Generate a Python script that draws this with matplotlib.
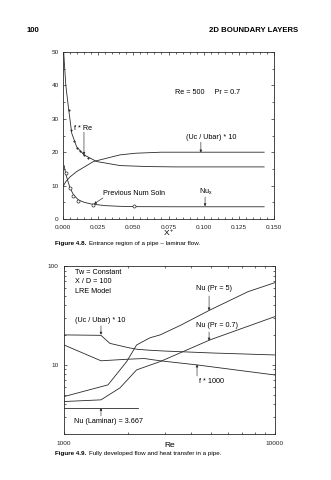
"""
Two stacked pipe flow charts from a textbook page (Figures 4.8 and 4.9).

1. Entrance region of a pipe - laminar flow (linear axes).
2. Fully developed flow and heat transfer in a pipe (log-log axes).

Usage:
  python3 plot.py
"""

import matplotlib
matplotlib.use("Agg")
import matplotlib.pyplot as plt
from matplotlib.ticker import (MultipleLocator, LogLocator, NullFormatter, FixedLocator,
                               FixedFormatter, StrMethodFormatter)

# -----------------------------------------------------------------------------
# Data: Figure 4.8 (entrance region)
# -----------------------------------------------------------------------------
fre_x = [0.0005, 0.001, 0.002, 0.0038, 0.0062, 0.0097, 0.0149, 0.024, 0.0405, 0.06, 0.08, 0.1, 0.143]
fre_y = [50.0, 46.5, 40.0, 33.6, 25.7, 21.6, 19.2, 17.2, 16.0, 15.7, 15.6, 15.6, 15.6]

uc_x = [0.0, 0.002, 0.005, 0.0097, 0.0216, 0.0405, 0.052, 0.07, 0.1, 0.143]
uc_y = [9.7, 11.2, 12.6, 14.2, 17.2, 19.2, 19.7, 20.0, 20.0, 20.0]

nu_x = [0.0008, 0.002, 0.005, 0.0075, 0.011, 0.015, 0.02, 0.03, 0.04, 0.05, 0.08, 0.143]
nu_y = [16.0, 13.4, 9.3, 7.2, 5.7, 5.0, 4.5, 4.0, 3.8, 3.7, 3.66, 3.66]

prev_nu_x = [0.0021, 0.005, 0.0073, 0.011, 0.0216, 0.0507]
prev_nu_y = [13.9, 9.4, 7.0, 5.5, 4.3, 3.8]

prev_fre_x = [0.004, 0.006, 0.008, 0.010, 0.012, 0.015, 0.018]
prev_fre_y = [32.5, 26.5, 23.3, 21.4, 20.3, 19.2, 18.3]

x_tick_labels = ["0.000", "0.025", "0.050", "0.075", "0.100", "0.125", "0.150"]

# -----------------------------------------------------------------------------
# Data: Figure 4.9 (fully developed, Re 1000 - 10000)
# -----------------------------------------------------------------------------
re_uc = [1000, 1497, 1650, 2000, 2208, 2500, 3000, 5000, 10000]
uc10 = [20.1, 19.9, 16.5, 15.0, 14.4, 14.1, 13.8, 13.2, 12.6]

re_f = [1000, 1497, 1990, 2400, 2855, 4260, 10000]
f1000 = [15.9, 11.0, 11.4, 11.6, 11.0, 10.0, 7.9]

re_pr5 = [1000, 1616, 1982, 2208, 2557, 2855, 3548, 4920, 7450, 10000]
nu_pr5 = [4.78, 6.28, 10.8, 15.9, 18.8, 20.1, 25.0, 35.9, 55.0, 67.9]

re_pr07 = [1000, 1497, 1843, 2208, 2855, 4920, 10000]
nu_pr07 = [4.26, 4.43, 5.86, 8.9, 10.8, 17.9, 30.8]

re_lam = [1000, 2242]
nu_lam = [3.667, 3.667]

LINE_COLOR = "#2a2a2a"
LINE_WIDTH = 0.6
FONT_TICK = 4.6
FONT_NOTE = 5.2
FONT_CAPTION = 4.5
ARROW = dict(arrowstyle="-|>", lw=0.45, color=LINE_COLOR, mutation_scale=3.5, shrinkA=0, shrinkB=0)


def style_axes(ax):
  """Inward ticks on all four sides, thin frame."""
  for spine in ax.spines.values():
    spine.set_linewidth(0.6)
    spine.set_color(LINE_COLOR)
  ax.tick_params(which="both", direction="in", top=True, right=True, width=0.5,
                 colors=LINE_COLOR, labelsize=FONT_TICK, labelcolor="#222222")
  ax.tick_params(which="major", length=2.4)
  ax.tick_params(which="minor", length=1.4)


def caption(fig, y_px, label, text):
  """Bold figure number followed by the plain caption text."""
  y = 1 - y_px / 480
  bold = fig.text(55 / 331, y, label, fontsize=FONT_CAPTION, fontweight="bold", va="center")
  fig.canvas.draw()
  bbox = bold.get_window_extent(renderer=fig.canvas.get_renderer())
  fig.text((bbox.x1 + 3) / 331, y, text, fontsize=FONT_CAPTION, va="center")


def main() -> None:
  plt.rcParams["font.family"] = ["Liberation Sans", "DejaVu Sans"]
  plt.rcParams["mathtext.default"] = "regular"

  fig = plt.figure(figsize=(3.31, 4.8), dpi=100)

  # page header
  fig.text(27 / 331, 1 - 30 / 480, "100", fontsize=5.6, fontweight="bold", va="center", ha="left")
  fig.text(298 / 331, 1 - 30 / 480, "2D BOUNDARY LAYERS", fontsize=5.6, fontweight="bold",
           va="center", ha="right")

  # -----------------------------------------------------------------------------
  # Figure 4.8
  # -----------------------------------------------------------------------------
  ax1 = fig.add_axes([63 / 331, 1 - 219 / 480, 211 / 331, 167 / 480])
  kw = dict(color=LINE_COLOR, lw=LINE_WIDTH)
  ax1.plot(fre_x, fre_y, **kw)
  ax1.plot(uc_x, uc_y, **kw)
  ax1.plot(nu_x, nu_y, **kw)
  ax1.plot(prev_nu_x, prev_nu_y, linestyle="none", marker="o", ms=2.2, mfc="white",
           mec=LINE_COLOR, mew=0.5)
  ax1.plot(prev_fre_x, prev_fre_y, linestyle="none", marker="o", ms=1.1, mfc=LINE_COLOR,
           mec=LINE_COLOR, mew=0.3)

  ax1.set_xlim(0, 0.15)
  ax1.set_ylim(0, 50)
  ax1.xaxis.set_major_locator(FixedLocator([0.025 * i for i in range(len(x_tick_labels))]))
  ax1.xaxis.set_major_formatter(FixedFormatter(x_tick_labels))
  ax1.xaxis.set_minor_locator(MultipleLocator(0.005))
  ax1.yaxis.set_major_locator(MultipleLocator(10))
  ax1.yaxis.set_major_formatter(StrMethodFormatter("{x:.0f}"))
  ax1.yaxis.set_minor_locator(MultipleLocator(5))
  style_axes(ax1)
  ax1.tick_params(axis="x", pad=4)
  ax1.tick_params(axis="y", pad=3)
  ax1.set_xlabel("$X^+$", fontsize=6, labelpad=-1)

  ax1.text(0.103, 38, "Re = 500     Pr = 0.7", fontsize=FONT_NOTE, ha="center", va="center")
  ax1.text(0.0078, 27.2, "f * Re", fontsize=FONT_NOTE, ha="left", va="center")
  ax1.annotate("", xy=(0.0149, 19.2), xytext=(0.0149, 26.0), arrowprops=ARROW)
  ax1.text(0.105, 24.3, "(Uc / Ubar) * 10", fontsize=FONT_NOTE, ha="center", va="center")
  ax1.annotate("", xy=(0.098, 19.9), xytext=(0.098, 23.0), arrowprops=ARROW)
  ax1.text(0.1017, 8.1, "Nu$_x$", fontsize=FONT_NOTE, ha="center", va="center")
  ax1.annotate("", xy=(0.101, 3.8), xytext=(0.101, 6.6), arrowprops=ARROW)
  ax1.text(0.0284, 7.5, "Previous Num Soln", fontsize=FONT_NOTE, ha="left", va="center")
  ax1.annotate("", xy=(0.022, 4.5), xytext=(0.0284, 6.3), arrowprops=ARROW)

  # -----------------------------------------------------------------------------
  # Figure 4.9
  # -----------------------------------------------------------------------------
  ax2 = fig.add_axes([64 / 331, 1 - 434 / 480, 211 / 331, 168 / 480])
  ax2.plot(re_uc, uc10, **kw)
  ax2.plot(re_f, f1000, **kw)
  ax2.plot(re_pr5, nu_pr5, **kw)
  ax2.plot(re_pr07, nu_pr07, **kw)
  ax2.plot(re_lam, nu_lam, **kw)
  ax2.set_xscale("log")
  ax2.set_yscale("log")
  ax2.set_xlim(1000, 10000)
  ax2.set_ylim(2, 100)

  ax2.xaxis.set_major_locator(FixedLocator([1000, 10000]))
  ax2.xaxis.set_major_formatter(FixedFormatter(["1000", "10000"]))
  ax2.xaxis.set_minor_locator(LogLocator(base=10, subs=range(2, 10)))
  ax2.xaxis.set_minor_formatter(NullFormatter())
  ax2.yaxis.set_major_locator(FixedLocator([10, 100]))
  ax2.yaxis.set_major_formatter(FixedFormatter(["10", "100"]))
  ax2.yaxis.set_minor_locator(LogLocator(base=10, subs=range(2, 10)))
  ax2.yaxis.set_minor_formatter(NullFormatter())
  style_axes(ax2)
  ax2.tick_params(axis="x", pad=5)
  ax2.tick_params(axis="y", pad=4)
  ax2.set_xlabel("Re", fontsize=6, labelpad=-3)

  ax2.text(1127, 86.9, "Tw = Constant", fontsize=FONT_NOTE, ha="left", va="center")
  ax2.text(1127, 68.9, "X / D = 100", fontsize=FONT_NOTE, ha="left", va="center")
  ax2.text(1127, 54.6, "LRE Model", fontsize=FONT_NOTE, ha="left", va="center")
  ax2.text(1127, 27.8, "(Uc / Ubar) * 10", fontsize=FONT_NOTE, ha="left", va="center")
  ax2.annotate("", xy=(1497, 20.2), xytext=(1497, 24.8), arrowprops=ARROW)
  ax2.text(4223, 58.6, "Nu (Pr = 5)", fontsize=FONT_NOTE, ha="left", va="center")
  ax2.annotate("", xy=(4870, 35.5), xytext=(4870, 49.8), arrowprops=ARROW)
  ax2.text(4223, 25.3, "Nu (Pr = 0.7)", fontsize=FONT_NOTE, ha="left", va="center")
  ax2.annotate("", xy=(4870, 17.6), xytext=(4870, 21.5), arrowprops=ARROW)
  ax2.text(4367, 6.73, "f * 1000", fontsize=FONT_NOTE, ha="left", va="center")
  ax2.annotate("", xy=(4270, 10.1), xytext=(4270, 7.74), arrowprops=ARROW)
  ax2.text(1115, 2.65, "Nu (Laminar) = 3.667", fontsize=FONT_NOTE, ha="left", va="center")
  ax2.annotate("", xy=(1497, 3.667), xytext=(1497, 3.05), arrowprops=ARROW)

  caption(fig, 243, "Figure 4.8.", "Entrance region of a pipe \u2013 laminar flow.")
  caption(fig, 453, "Figure 4.9.", "Fully developed flow and heat transfer in a pipe.")

  fig.savefig("out.png", dpi=100)


if __name__ == "__main__":
  main()
